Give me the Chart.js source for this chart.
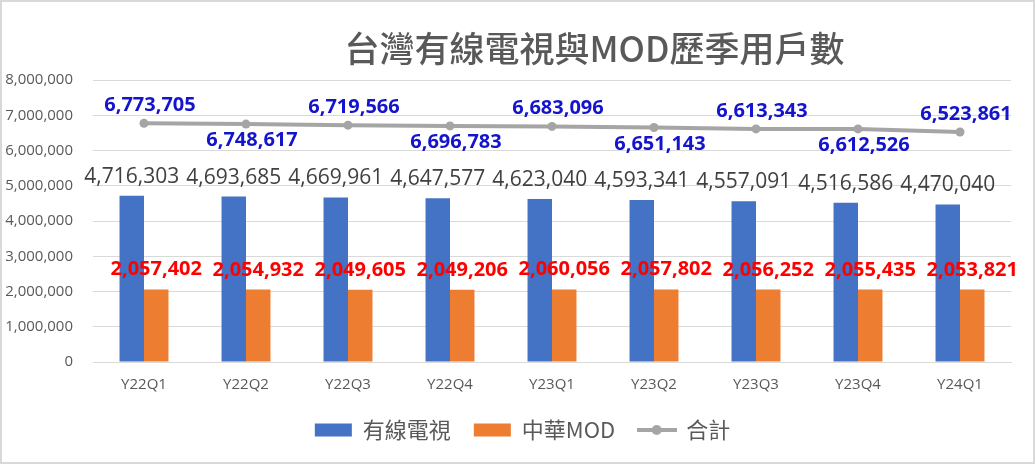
<!DOCTYPE html>
<html>
<head>
<meta charset="utf-8">
<script src="https://cdn.jsdelivr.net/npm/chart.js@4.4.1/dist/chart.umd.min.js"></script>
<style>
  html, body { margin: 0; padding: 0; background: #fff; }
  #wrap { position: relative; width: 1035px; height: 464px; }
  #frame { position: absolute; left: 0; top: 0; width: 1035px; height: 464px; box-sizing: border-box;
           border: 2px solid #d9d9d9; pointer-events: none; }
  #title { position: absolute; left: 0; width: 1035px; top: 24px; text-align: center; padding-left: 154px; box-sizing: border-box;
           font-family: "Noto Sans CJK TC", sans-serif; font-size: 35px; font-weight: 500; color: #595959; line-height: 46px; }
</style>
</head>
<body>
<div id="wrap">
  <canvas id="chart" width="1035" height="464"></canvas>
  <div id="title">台灣有線電視與MOD歷季用戶數</div>
  <div id="frame"></div>
</div>
<script>
const quarters = ['Y22Q1', 'Y22Q2', 'Y22Q3', 'Y22Q4', 'Y23Q1', 'Y23Q2', 'Y23Q3', 'Y23Q4', 'Y24Q1'];
const cableTV = [4716303, 4693685, 4669961, 4647577, 4623040, 4593341, 4557091, 4516586, 4470040];
const chtMOD = [2057402, 2054932, 2049605, 2049206, 2060056, 2057802, 2056252, 2055435, 2053821];
const totals = [6773705, 6748617, 6719566, 6696783, 6683096, 6651143, 6613343, 6612526, 6523861];

const FONT = '"Open Sans", "Noto Sans CJK TC", sans-serif';
const CJK = '"Noto Sans CJK TC", "Open Sans", sans-serif';

// little canvas for the line legend marker (line with a dot)
function lineMarker() {
    const c = document.createElement('canvas');
    c.width = 40; c.height = 12;
    const g = c.getContext('2d');
    g.strokeStyle = '#a5a5a5';
    g.lineWidth = 4;
    g.beginPath(); g.moveTo(0, 6); g.lineTo(40, 6); g.stroke();
    g.fillStyle = '#a5a5a5';
    g.beginPath(); g.arc(20, 6, 5, 0, Math.PI * 2); g.fill();
    return c;
}
const marker = lineMarker();

const fmt = v => v.toLocaleString('en-US');

// draws the value labels like excel does
const valueLabels = {
    id: 'valueLabels',
    afterLayout(chart) {
        // excel centres the legend on the whole chart, nudge it over
        chart.legend.left += 17;
        chart.legend.right += 17;
    },
    afterDatasetsDraw(chart) {
        const ctx = chart.ctx;
        ctx.save();
        ctx.textAlign = 'center';
        ctx.textBaseline = 'alphabetic';
        chart.data.datasets.forEach((ds, di) => {
            const meta = chart.getDatasetMeta(di);
            meta.data.forEach((el, i) => {
                const text = fmt(ds.data[i]);
                if (di === 0) {
                    ctx.font = '21px ' + FONT;
                    ctx.fillStyle = '#404040';
                    ctx.fillText(text, el.x, el.y - 13);
                } else if (di === 1) {
                    ctx.font = 'bold 20px ' + FONT;
                    ctx.fillStyle = '#ff0000';
                    ctx.fillText(text, el.x, el.y - 14);
                } else {
                    ctx.font = 'bold 20px ' + FONT;
                    ctx.fillStyle = '#1414cc';
                    const dy = (i % 2 === 0) ? -12 : 22;
                    ctx.fillText(text, el.x + 6, el.y + dy);
                }
            });
        });
        ctx.restore();
    }
};

new Chart(document.getElementById('chart'), {
    type: 'bar',
    data: {
        labels: quarters,
        datasets: [
            {
                label: '有線電視',
                data: cableTV,
                backgroundColor: '#4472c4',
                categoryPercentage: 0.48,
                barPercentage: 1.0
            },
            {
                label: '中華MOD',
                data: chtMOD,
                backgroundColor: '#ed7d31',
                categoryPercentage: 0.48,
                barPercentage: 1.0
            },
            {
                type: 'line',
                label: '合計',
                data: totals,
                borderColor: '#a5a5a5',
                backgroundColor: '#a5a5a5',
                borderWidth: 4,
                pointRadius: 4.5,
                pointBackgroundColor: '#a5a5a5',
                pointBorderWidth: 0,
                fill: false,
                tension: 0
            }
        ]
    },
    options: {
        responsive: false,
        animation: false,
        layout: { padding: { left: 0, right: 24, top: 80, bottom: 13 } },
        plugins: {
            title: { display: false },
            tooltip: { enabled: false },
            legend: {
                position: 'bottom',
                labels: {
                    usePointStyle: true,
                    pointStyleWidth: 37,
                    boxHeight: 13,
                    padding: 23,
                    color: '#595959',
                    font: { family: CJK, size: 22 },
                    generateLabels(chart) {
                        return chart.data.datasets.map((ds, i) => ({
                            text: ds.label,
                            fillStyle: ds.backgroundColor,
                            strokeStyle: ds.backgroundColor,
                            lineWidth: 0,
                            pointStyle: i === 2 ? marker : 'rect',
                            fontColor: '#595959',
                            datasetIndex: i
                        }));
                    }
                }
            }
        },
        scales: {
            x: {
                grid: { display: false, drawTicks: false },
                border: { color: '#d9d9d9', width: 1 },
                ticks: { color: '#595959', font: { family: FONT, size: 15 }, padding: 14 },
                afterFit(scale) { scale.height = 34; }
            },
            y: {
                min: 0,
                max: 8000000,
                ticks: {
                    stepSize: 1000000,
                    color: '#595959',
                    font: { family: FONT, size: 15 },
                    padding: 20,
                    callback: v => fmt(v)
                },
                grid: { color: '#d9d9d9', lineWidth: 1, drawTicks: false },
                border: { display: false },
                afterFit(scale) { scale.width = 93; }
            }
        }
    },
    plugins: [valueLabels]
});
</script>
</body>
</html>
